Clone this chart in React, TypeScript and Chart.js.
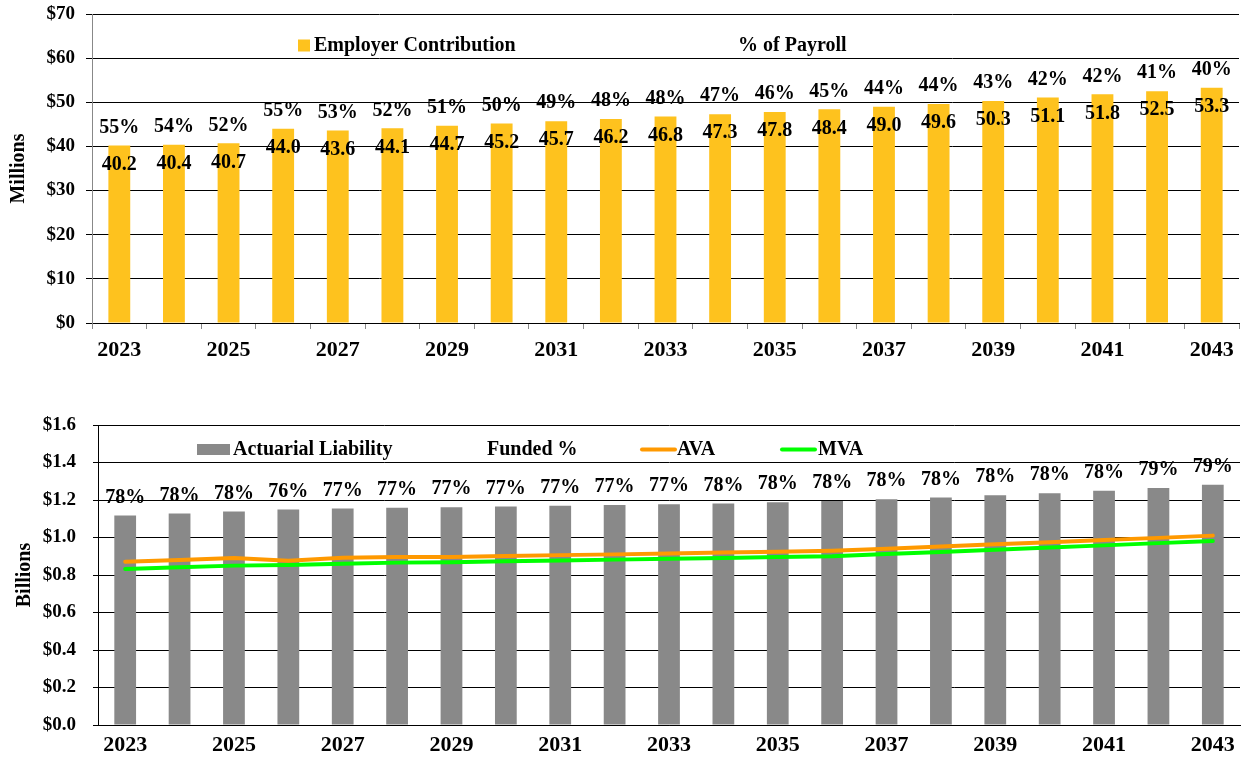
import React, { useEffect, useRef } from "react";
import { Chart, registerables } from "chart.js";

Chart.register(...registerables);

// ---------- data ----------
const years = [
  "2023", "2024", "2025", "2026", "2027", "2028", "2029", "2030", "2031", "2032", "2033",
  "2034", "2035", "2036", "2037", "2038", "2039", "2040", "2041", "2042", "2043",
];
const shownYearLabels = [
  "2023", "2025", "2027", "2029", "2031", "2033", "2035", "2037", "2039", "2041", "2043",
];

const employerContribution = [
  40.2, 40.4, 40.7, 44.0, 43.6, 44.1, 44.7, 45.2, 45.7, 46.2, 46.8,
  47.3, 47.8, 48.4, 49.0, 49.6, 50.3, 51.1, 51.8, 52.5, 53.3,
];
const pctOfPayroll = [
  55, 54, 52, 55, 53, 52, 51, 50, 49, 48, 48, 47, 46, 45, 44, 44, 43, 42, 42, 41, 40,
];

const actuarialLiability = [
  1.118, 1.128, 1.139, 1.15, 1.155, 1.159, 1.161, 1.166, 1.17, 1.173, 1.177,
  1.182, 1.188, 1.195, 1.204, 1.214, 1.225, 1.236, 1.25, 1.264, 1.282,
];
const avaValues = [
  0.871, 0.88, 0.891, 0.876, 0.892, 0.896, 0.896, 0.901, 0.906, 0.91, 0.915,
  0.92, 0.924, 0.929, 0.94, 0.952, 0.964, 0.975, 0.987, 0.998, 1.01,
];
const mvaValues = [
  0.832, 0.841, 0.85, 0.853, 0.86, 0.866, 0.868, 0.873, 0.877, 0.882, 0.887,
  0.891, 0.896, 0.9, 0.912, 0.923, 0.935, 0.947, 0.958, 0.97, 0.981,
];
const fundedPct = [
  78, 78, 78, 76, 77, 77, 77, 77, 77, 77, 77, 78, 78, 78, 78, 78, 78, 78, 78, 79, 79,
];

const topLegendLabels = ["Employer Contribution", "% of Payroll"];
const bottomLegendLabels = ["Actuarial Liability", "Funded %", "AVA", "MVA"];

// ---------- styles ----------
const SERIF = "'Liberation Serif', 'Times New Roman', serif";
const GOLD = "#FEC21E";
const GRAY_BAR = "#898989";
const ORANGE = "#FF9900";
const GREEN = "#00FF00";

type LegendItem = {
  kind: "box" | "line" | "none";
  x?: number;
  w?: number;
  h?: number;
  color?: string;
  textX: number;
  label: string;
};

const manualLegend = {
  id: "manualLegend",
  afterDraw(chart: any, _args: any, opts: any) {
    const ctx = chart.ctx as CanvasRenderingContext2D;
    ctx.save();
    ctx.font = opts.font;
    ctx.textBaseline = "middle";
    ctx.textAlign = "left";
    for (const it of opts.items as LegendItem[]) {
      if (it.kind === "box") {
        ctx.fillStyle = it.color!;
        ctx.fillRect(it.x!, opts.y - it.h! / 2, it.w!, it.h!);
      } else if (it.kind === "line") {
        ctx.strokeStyle = it.color!;
        ctx.lineWidth = 4;
        ctx.lineCap = "round";
        ctx.beginPath();
        ctx.moveTo(it.x!, opts.y);
        ctx.lineTo(it.x! + it.w!, opts.y);
        ctx.stroke();
      }
      ctx.fillStyle = "#000";
      ctx.fillText(it.label, it.textX, opts.y);
    }
    ctx.restore();
  },
};

const barLabels = {
  id: "barLabels",
  afterDatasetsDraw(chart: any, _args: any, opts: any) {
    const ctx = chart.ctx as CanvasRenderingContext2D;
    const meta = chart.getDatasetMeta(opts.datasetIndex);
    ctx.save();
    ctx.font = opts.font;
    ctx.fillStyle = "#000";
    ctx.textAlign = "center";
    ctx.textBaseline = "middle";
    meta.data.forEach((el: any, i: number) => {
      if (opts.above) ctx.fillText(opts.above[i], el.x, el.y - 18);
      if (opts.inside) ctx.fillText(opts.inside[i], el.x, el.y + 19);
    });
    ctx.restore();
  },
};

function xTickCallback(_v: any, index: number) {
  const y = years[index];
  return shownYearLabels.includes(y) ? y : "";
}

function TopChart() {
  const ref = useRef<HTMLCanvasElement>(null);
  useEffect(() => {
    const chart = new Chart(ref.current!, {
      type: "bar",
      data: {
        labels: years,
        datasets: [
          {
            label: topLegendLabels[0],
            data: employerContribution,
            backgroundColor: GOLD,
            barPercentage: 0.4,
            categoryPercentage: 1,
          },
        ],
      },
      plugins: [barLabels, manualLegend],
      options: {
        animation: false,
        responsive: false,
        events: [],
        layout: { padding: { top: 14, right: 7, left: 0, bottom: 0 } },
        plugins: {
          legend: { display: false },
          tooltip: { enabled: false },
          barLabels: {
            datasetIndex: 0,
            font: `bold 20px ${SERIF}`,
            above: pctOfPayroll.map((p) => p + "%"),
            inside: employerContribution.map((v) => v.toFixed(1)),
          },
          manualLegend: {
            font: `bold 20px ${SERIF}`,
            y: 45.5,
            items: [
              { kind: "box", x: 298, w: 12, h: 12, color: GOLD, textX: 314, label: topLegendLabels[0] },
              { kind: "none", textX: 738, label: topLegendLabels[1] },
            ],
          },
        } as any,
        scales: {
          x: {
            afterFit: (s: any) => {
              s.height = 49;
            },
            grid: {
              display: true,
              drawOnChartArea: false,
              drawTicks: true,
              tickLength: 6,
              color: "#888888",
              offset: true,
            },
            border: { display: true, color: "#000000", width: 1 },
            ticks: {
              autoSkip: false,
              maxRotation: 0,
              padding: 8,
              color: "#000",
              font: { family: SERIF, size: 22, weight: "bold" },
              callback: xTickCallback,
            },
          },
          y: {
            min: 0,
            max: 70,
            afterFit: (s: any) => {
              s.width = 92;
              s.paddingTop = 0;
              s.paddingBottom = 0;
            },
            grid: { color: "#000000", lineWidth: 1, tickLength: 6, drawTicks: true },
            border: { display: true, color: "#888888", width: 1 },
            ticks: {
              stepSize: 10,
              padding: 11,
              color: "#000",
              font: { family: SERIF, size: 19, weight: "bold" },
              callback: (v: any) => "$" + v,
            },
            title: {
              display: true,
              text: "Millions",
              color: "#000",
              padding: { top: 7, bottom: 0 },
              font: { family: SERIF, size: 20, weight: "bold" },
            },
          },
        },
      } as any,
    });
    return () => chart.destroy();
  }, []);
  return (
    <canvas
      ref={ref}
      width={1246}
      height={372}
      style={{ position: "absolute", left: 0, top: 0, width: 1246, height: 372 }}
    />
  );
}

function BottomChart() {
  const ref = useRef<HTMLCanvasElement>(null);
  useEffect(() => {
    const chart = new Chart(ref.current!, {
      type: "bar",
      data: {
        labels: years,
        datasets: [
          {
            type: "line",
            label: bottomLegendLabels[2],
            data: avaValues,
            borderColor: ORANGE,
            backgroundColor: ORANGE,
            borderWidth: 4,
            pointRadius: 0,
            tension: 0,
            borderCapStyle: "round",
            order: 0,
          } as any,
          {
            type: "line",
            label: bottomLegendLabels[3],
            data: mvaValues,
            borderColor: GREEN,
            backgroundColor: GREEN,
            borderWidth: 4,
            pointRadius: 0,
            tension: 0,
            borderCapStyle: "round",
            order: 1,
          } as any,
          {
            type: "bar",
            label: bottomLegendLabels[0],
            data: actuarialLiability,
            backgroundColor: GRAY_BAR,
            barPercentage: 0.4,
            categoryPercentage: 1,
            order: 2,
          },
        ],
      },
      plugins: [barLabels, manualLegend],
      options: {
        animation: false,
        responsive: false,
        events: [],
        layout: { padding: { top: 30, right: 6, left: 0, bottom: 0 } },
        plugins: {
          legend: { display: false },
          tooltip: { enabled: false },
          barLabels: {
            datasetIndex: 2,
            font: `bold 20px ${SERIF}`,
            above: fundedPct.map((p) => p + "%"),
          },
          manualLegend: {
            font: `bold 20px ${SERIF}`,
            y: 54.5,
            items: [
              { kind: "box", x: 197, w: 33, h: 11, color: GRAY_BAR, textX: 233, label: bottomLegendLabels[0] },
              { kind: "none", textX: 487, label: bottomLegendLabels[1] },
              { kind: "line", x: 642, w: 33, color: ORANGE, textX: 677, label: bottomLegendLabels[2] },
              { kind: "line", x: 782, w: 33, color: GREEN, textX: 818, label: bottomLegendLabels[3] },
            ],
          },
        } as any,
        scales: {
          x: {
            afterFit: (s: any) => {
              s.height = 34;
            },
            grid: { display: true, drawOnChartArea: false, drawTicks: false, offset: true },
            border: { display: true, color: "#000000", width: 1 },
            ticks: {
              autoSkip: false,
              maxRotation: 0,
              padding: 7,
              color: "#000",
              font: { family: SERIF, size: 22, weight: "bold" },
              callback: xTickCallback,
            },
          },
          y: {
            min: 0,
            max: 1.6,
            afterFit: (s: any) => {
              s.width = 98;
              s.paddingTop = 0;
              s.paddingBottom = 0;
            },
            grid: { color: "#000000", lineWidth: 1, tickLength: 5, drawTicks: true },
            border: { display: true, color: "#000000", width: 1 },
            ticks: {
              stepSize: 0.2,
              padding: 17,
              color: "#000",
              font: { family: SERIF, size: 19, weight: "bold" },
              callback: (v: any) => "$" + Number(v).toFixed(1),
            },
            title: {
              display: true,
              text: "Billions",
              color: "#000",
              padding: { top: 13, bottom: 0 },
              font: { family: SERIF, size: 20, weight: "bold" },
            },
          },
        },
      } as any,
    });
    return () => chart.destroy();
  }, []);
  return (
    <canvas
      ref={ref}
      width={1246}
      height={364}
      style={{ position: "absolute", left: 0, top: 395, width: 1246, height: 364 }}
    />
  );
}

export default function App() {
  return (
    <div
      style={{
        position: "absolute",
        left: 0,
        top: 0,
        width: 1246,
        height: 759,
        background: "#ffffff",
        overflow: "hidden",
      }}
    >
      <TopChart />
      <BottomChart />
    </div>
  );
}
